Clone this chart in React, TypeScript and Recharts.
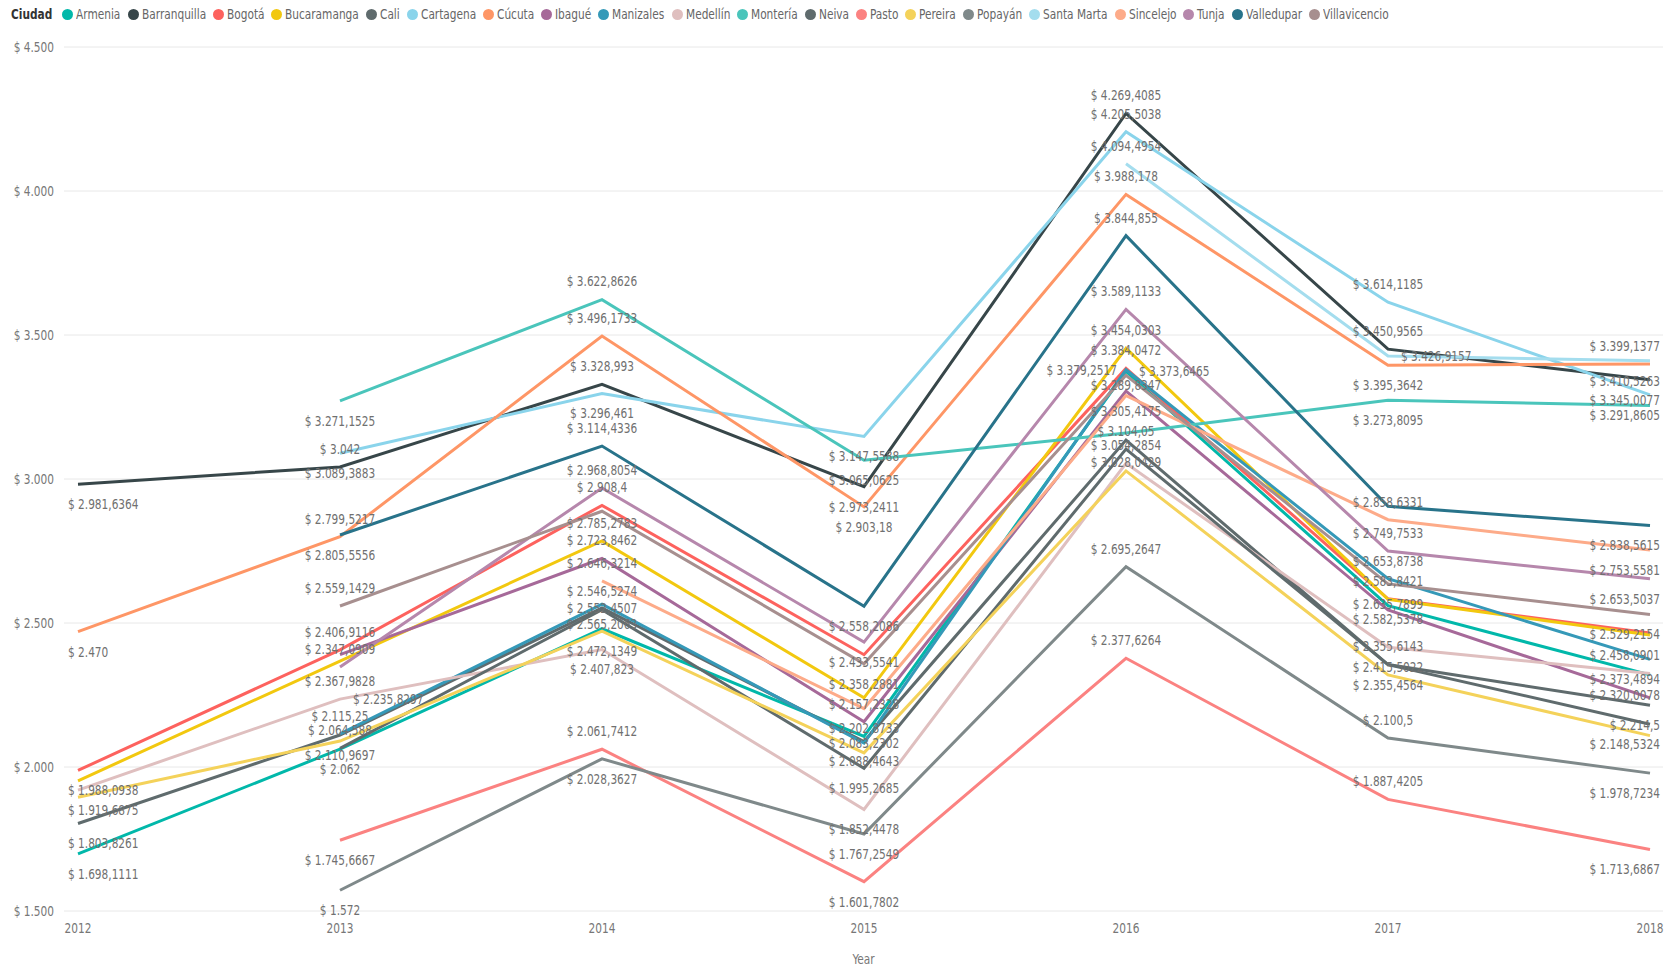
import { LineChart, Line, XAxis, YAxis, CartesianGrid, LabelList, Label } from 'recharts'

document.body.style.margin = '0'

const FONT = '"Liberation Sans Narrow", "DejaVu Sans Condensed", sans-serif'
const FS = 14
const SX = 0.84 // squeeze the condensed font closer to Power BI's DIN

const years = ['2012', '2013', '2014', '2015', '2016', '2017', '2018']
const yTicks = [1500, 2000, 2500, 3000, 3500, 4000, 4500]

const cities = [
  'Armenia', 'Barranquilla', 'Bogotá', 'Bucaramanga', 'Cali', 'Cartagena', 'Cúcuta', 'Ibagué', 'Manizales', 'Medellín',
  'Montería', 'Neiva', 'Pasto', 'Pereira', 'Popayán', 'Santa Marta', 'Sincelejo', 'Tunja', 'Valledupar', 'Villavicencio',
]

const armenia = [1698.1111, 2062, 2480, 2106, 3373.6465, 2560, 2320.0078]
const barranquilla = [2981.6364, 3042, 3328.993, 2973.2411, 4269.4085, 3450.9565, 3345.0077]
const bogota = [1988.0938, 2406.9116, 2908.4, 2390, 3384.0472, 2583.8421, 2465]
const bucaramanga = [1952, 2367.9828, 2785.2783, 2240, 3454.0303, 2582.5378, 2458.0901]
const cali = [1803.8261, 2110.9697, 2552.4507, 2088.4643, 3135, 2355.6143, 2214.5]
const cartagena = [null, 3089.3883, 3296.461, 3147.5588, 4205.5038, 3614.1185, 3291.8605]
const cucuta = [2470, 2799.5217, 3496.1733, 2903.18, 3988.178, 3395.3642, 3399.1377]
const ibague = [null, 2390, 2723.8462, 2157.2328, 3305.4175, 2545, 2240]
const manizales = [null, 2115.25, 2565.2063, 2083.2302, 3379.2517, 2653.8738, 2373.4894]
const medellin = [1919.6875, 2235.8297, 2407.823, 1852.4478, 3054.2854, 2415.5022, 2325]
const monteria = [null, 3271.1525, 3622.8626, 3065.0625, 3160, 3273.8095, 3255]
const neiva = [null, 2064.588, 2546.5274, 1995.2685, 3104.05, 2355.4564, 2148.5324]
const pasto = [null, 1745.6667, 2061.7412, 1601.7802, 2377.6264, 1887.4205, 1713.6867]
const pereira = [1895, 2090, 2472.1349, 2049, 3028.0429, 2320, 2109]
const popayan = [null, 1572, 2028.3627, 1767.2549, 2695.2647, 2100.5, 1978.7234]
const santaMarta = [null, null, null, null, 4094.4954, 3426.9157, 3410.5263]
const sincelejo = [null, null, 2646.3214, 2202.8733, 3289.8347, 2858.6331, 2753.5581]
const tunja = [null, 2347.0909, 2968.8054, 2433.5541, 3589.1133, 2749.7533, 2653.5037]
const valledupar = [null, 2805.5556, 3114.4336, 2558.2086, 3844.855, 2905, 2838.5615]
const villavicencio = [null, 2559.1429, 2888, 2358.2881, 3360, 2635.7899, 2529.2154]

const series = [
  armenia, barranquilla, bogota, bucaramanga, cali, cartagena, cucuta, ibague, manizales, medellin,
  monteria, neiva, pasto, pereira, popayan, santaMarta, sincelejo, tunja, valledupar, villavicencio,
]

const colors = [
  '#01B8AA', '#374649', '#FD625E', '#F2C80F', '#5F6B6D', '#8AD4EB', '#FE9666', '#A66999', '#3599B8', '#DFBFBF',
  '#4AC5BB', '#5F6B6D', '#FB8281', '#F4D25A', '#7F898A', '#A4DDEE', '#FDAB89', '#B687AC', '#28738A', '#A78F8F',
]

// which data labels survive Power BI's overlap culling, and where they sit
// a = above, b = below, l = left, r = right, c = on the point, number = custom dy
const labelSpots: Record<string, string | number> = {
  'Barranquilla|0': 'b', 'Cúcuta|0': 'b', 'Bogotá|0': 'b', 'Medellín|0': 'b', 'Cali|0': 'b', 'Armenia|0': 'b',

  'Montería|1': 'b', 'Barranquilla|1': 'a', 'Cartagena|1': 'b', 'Cúcuta|1': 'a', 'Valledupar|1': 'b',
  'Villavicencio|1': 'a', 'Bogotá|1': 'a', 'Tunja|1': 'a', 'Bucaramanga|1': 'b', 'Medellín|1': 'r',
  'Manizales|1': 'a', 'Neiva|1': 'a', 'Cali|1': 'b', 'Armenia|1': 'b', 'Pasto|1': 'b', 'Popayán|1': 'b',

  'Montería|2': 'a', 'Cúcuta|2': 'a', 'Barranquilla|2': 'a', 'Cartagena|2': 'b', 'Valledupar|2': 'a',
  'Tunja|2': 'a', 'Bogotá|2': 'a', 'Bucaramanga|2': 'a', 'Ibagué|2': 'a', 'Sincelejo|2': 'a', 'Neiva|2': 'a',
  'Cali|2': 'c', 'Manizales|2': 'b', 'Pereira|2': 'b', 'Medellín|2': 'b', 'Pasto|2': 'a', 'Popayán|2': 'b',

  'Cartagena|3': 'b', 'Montería|3': 'b', 'Barranquilla|3': 'b', 'Cúcuta|3': 'b', 'Valledupar|3': 'b',
  'Tunja|3': 'b', 'Villavicencio|3': 'b', 'Ibagué|3': 'a', 'Sincelejo|3': 'b', 'Manizales|3': 'c',
  'Cali|3': 'b', 'Neiva|3': 'b', 'Medellín|3': 'b', 'Popayán|3': 'b', 'Pasto|3': 'b',

  'Barranquilla|4': 'a', 'Cartagena|4': 'a', 'Santa Marta|4': 'a', 'Cúcuta|4': 'a', 'Valledupar|4': 'a',
  'Tunja|4': 'a', 'Bucaramanga|4': 'a', 'Bogotá|4': 'a', 'Manizales|4': 'l', 'Armenia|4': 'r',
  'Sincelejo|4': -10, 'Ibagué|4': 'b', 'Neiva|4': 'a', 'Medellín|4': 'a', 'Pereira|4': -9,
  'Popayán|4': 'a', 'Pasto|4': 'a',

  'Cartagena|5': 'a', 'Barranquilla|5': 'a', 'Santa Marta|5': 'r', 'Cúcuta|5': 'b', 'Montería|5': 'b',
  'Sincelejo|5': 'a', 'Tunja|5': 'a', 'Manizales|5': 'a', 'Bogotá|5': 'a', 'Villavicencio|5': 'b',
  'Bucaramanga|5': 'b', 'Cali|5': 'a', 'Medellín|5': 'b', 'Neiva|5': 'b', 'Popayán|5': 'a', 'Pasto|5': 'a',

  'Cúcuta|6': 'a', 'Santa Marta|6': 'b', 'Barranquilla|6': 'b', 'Cartagena|6': 'b', 'Valledupar|6': 'b',
  'Sincelejo|6': 'b', 'Tunja|6': 'b', 'Villavicencio|6': 'b', 'Bucaramanga|6': 'b', 'Manizales|6': 'b',
  'Armenia|6': 'b', 'Cali|6': 'b', 'Neiva|6': 'b', 'Popayán|6': 'b', 'Pasto|6': 'b',
}

const data = years.map((year, i) => {
  const row: Record<string, string | number | null> = { year }
  cities.forEach((c, k) => { row[c] = series[k][i] })
  return row
})

function money(v: number) {
  const [int, dec] = String(v).split('.')
  const grouped = int.replace(/\B(?=(\d{3})+(?!\d))/g, '.')
  return '$ ' + grouped + (dec ? ',' + dec : '')
}

const measureCtx = document.createElement('canvas').getContext('2d')
function textWidth(s: string, weight = 'normal') {
  if (!measureCtx) return s.length * 7
  measureCtx.font = `${weight} ${FS}px ${FONT}`
  return measureCtx.measureText(s).width * SX
}

function NarrowText({ x, y, anchor = 'middle', fill = '#707070', children }: any) {
  return (
    <text transform={`translate(${x},${y}) scale(${SX},1)`} textAnchor={anchor} dominantBaseline="central"
      fill={fill} fontSize={FS} fontFamily={FONT}>
      {children}
    </text>
  )
}

function makeLabel(city: string) {
  return (props: any) => {
    const { x, y, value, index } = props
    const spot = labelSpots[`${city}|${index}`]
    if (spot === undefined || value == null) return null
    let dx = 0
    let dy = 0
    let anchor = 'middle'
    if (spot === 'a') dy = -18
    else if (spot === 'b') dy = 20
    else if (spot === 'l') { dx = -9; anchor = 'end' }
    else if (spot === 'r') { dx = 13; anchor = 'start' }
    else if (typeof spot === 'number') dy = spot
    if (index === 0) { dx = -10; anchor = 'start' }
    if (index === years.length - 1) { dx = 10; anchor = 'end' }
    return <NarrowText x={x + dx} y={y + dy} anchor={anchor}>{money(value)}</NarrowText>
  }
}

function Legend() {
  return (
    <div style={{ position: 'absolute', top: 7, left: 11, display: 'flex', alignItems: 'center', height: 14, zIndex: 1 }}>
      <LegendText text="Ciudad" weight="bold" color="#333" />
      <span style={{ width: 10 }} />
      {cities.map((c, k) => (
        <span key={c} style={{ display: 'flex', alignItems: 'center', marginRight: 7 }}>
          <span style={{ width: 11, height: 11, borderRadius: '50%', background: colors[k], marginRight: 3 }} />
          <LegendText text={c} color="#666" />
        </span>
      ))}
    </div>
  )
}

function LegendText({ text, weight = 'normal', color }: { text: string; weight?: string; color: string }) {
  return (
    <span style={{ display: 'inline-block', width: textWidth(text, weight), height: 14, position: 'relative' }}>
      <span style={{ position: 'absolute', left: 0, top: -2, whiteSpace: 'nowrap', fontFamily: FONT, fontSize: FS, fontWeight: weight as any, color, transform: `scaleX(${SX})`, transformOrigin: 'left center', lineHeight: '18px' }}>
        {text}
      </span>
    </span>
  )
}

export default function App() {
  return (
    <div style={{ position: 'relative', width: 1677, height: 969, background: '#fff' }}>
      <Legend />
      <LineChart width={1677} height={969} data={data} margin={{ top: 47, right: 14, bottom: 0, left: 0 }}>
        <CartesianGrid vertical={false} stroke="#E8E8E8" />
        <XAxis dataKey="year" axisLine={false} tickLine={false} height={58} tickMargin={4}
          padding={{ left: 14, right: 13 }}
          tick={(p: any) => <NarrowText x={p.x} y={p.y + 7} fill="#777">{p.payload.value}</NarrowText>}>
          <Label content={(p: any) => {
            const vb = p.viewBox
            return <NarrowText x={vb.x + vb.width / 2} y={vb.y + vb.height - 10} fill="#777">Year</NarrowText>
          }} />
        </XAxis>
        <YAxis width={64} domain={[1500, 4500]} ticks={yTicks} axisLine={false} tickLine={false} tickMargin={4}
          tick={(p: any) => <NarrowText x={p.x} y={p.y} anchor="end" fill="#777">{money(p.payload.value)}</NarrowText>} />
        {cities.map((c, k) => (
          <Line key={c} type="linear" dataKey={c} stroke={colors[k]} strokeWidth={3} dot={false}
            activeDot={false} isAnimationActive={false}>
            <LabelList dataKey={c} content={makeLabel(c)} />
          </Line>
        ))}
      </LineChart>
    </div>
  )
}
